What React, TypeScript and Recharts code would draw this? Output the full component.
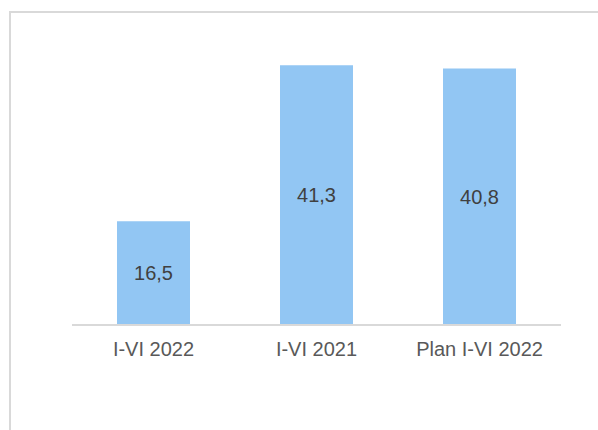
import { BarChart, Bar, XAxis, YAxis, LabelList } from "recharts";

const categories = ["I-VI 2022", "I-VI 2021", "Plan I-VI 2022"];
const values = [16.5, 41.3, 40.8];

const chartData = categories.map((c, i) => ({ name: c, value: values[i] }));

const fmt = (v: any) => String(v).replace(".", ",");

export default function App() {
  return (
    <div
      style={{
        position: "absolute",
        left: 0,
        top: 0,
        width: 598,
        height: 430,
        overflow: "hidden",
        background: "#fff",
        fontFamily: "'Liberation Sans', Arial, sans-serif",
      }}
    >
      {/* frame, runs off the right and bottom edges */}
      <div
        style={{
          position: "absolute",
          left: 9,
          top: 11,
          width: 700,
          height: 600,
          borderTop: "2px solid #d9d9d9",
          borderLeft: "2px solid #d9d9d9",
        }}
      />
      <div style={{ position: "absolute", left: 0, top: 0 }}>
        <BarChart
          width={598}
          height={430}
          data={chartData}
          margin={{ top: 42, right: 37, left: 72, bottom: 75 }}
          barSize={73}
        >
          <XAxis
            dataKey="name"
            tickLine={false}
            axisLine={{ stroke: "#d9d9d9", strokeWidth: 2 }}
            tick={{ fill: "#595959", fontSize: 20 }}
            tickMargin={11}
            height={30}
          />
          <YAxis hide domain={[0, 45]} />
          <Bar dataKey="value" fill="#92c6f3" isAnimationActive={false}>
            <LabelList
              dataKey="value"
              position="center"
              formatter={fmt}
              style={{ fill: "#404040", fontSize: 20 }}
            />
          </Bar>
        </BarChart>
      </div>
    </div>
  );
}
